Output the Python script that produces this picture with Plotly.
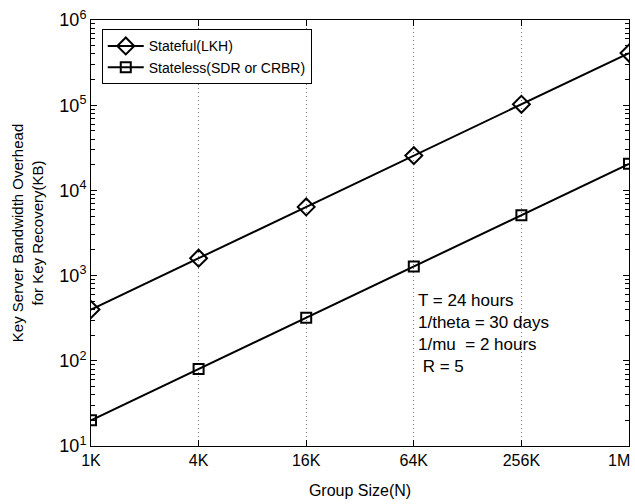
import plotly.graph_objects as go

group_size = [1024, 4096, 16384, 65536, 262144, 1048576]
x_ticklabels = ["1K", "4K", "16K", "64K", "256K", "1M"]
stateful_lkh = [400, 1600, 6400, 25600, 102400, 409600]
stateless = [20, 80, 320, 1280, 5120, 20480]
y_tickvals = [10, 100, 1000, 10000, 100000, 1000000]
y_ticklabels = ["10<sup>1</sup>", "10<sup>2</sup>", "10<sup>3</sup>",
                "10<sup>4</sup>", "10<sup>5</sup>", "10<sup>6</sup>"]

FONT = "Liberation Sans, Arial, Helvetica, sans-serif"

# minor tick positions (2..9 x each decade)
minor_vals = [m * d for d in y_tickvals[:-1] for m in range(2, 10)]

fig = go.Figure()
fig.add_trace(go.Scatter(
    x=group_size, y=stateful_lkh, mode="lines+markers", name="Stateful(LKH)",
    line=dict(color="black", width=2),
    marker=dict(symbol="diamond-open", size=13, color="black", line=dict(width=2)),
))
fig.add_trace(go.Scatter(
    x=group_size, y=stateless, mode="lines+markers", name="Stateless(SDR or CRBR)",
    line=dict(color="black", width=2),
    marker=dict(symbol="square-open", size=10, color="black", line=dict(width=2)),
))
# empty helper trace so the minor-tick axis is drawn
fig.add_trace(go.Scatter(x=[group_size[0]], y=[None], yaxis="y2", showlegend=False,
                         hoverinfo="skip", mode="markers"))

# last x tick label is drawn right-aligned so it stays inside the page
tick_text = x_ticklabels[:-1] + [""]

fig.update_layout(
    width=635, height=504,
    margin=dict(l=91, r=6, t=20, b=58),
    paper_bgcolor="white", plot_bgcolor="white",
    font=dict(family=FONT, size=14, color="black"),
    showlegend=True,
    legend=dict(x=0.02, y=0.978, xanchor="left", yanchor="top",
                bordercolor="black", borderwidth=1, bgcolor="white",
                font=dict(size=14), tracegroupgap=0, itemwidth=36),
    annotations=[
        dict(xref="paper", yref="paper", x=0.605, y=0.368, xanchor="left", yanchor="top",
             align="left", showarrow=False,
             text="T = 24 hours<br>1/theta = 30 days<br>1/mu  = 2 hours<br> R = 5",
             font=dict(size=17, family=FONT)),
        dict(xref="x", yref="paper", x=6.0206, y=0, xanchor="right", yanchor="top",
             yshift=-4, xshift=3, showarrow=False, text=x_ticklabels[-1],
             font=dict(size=16, family=FONT)),
    ],
    xaxis=dict(
        type="log", range=[3.0103, 6.0206],
        tickmode="array", tickvals=group_size, ticktext=tick_text,
        showgrid=True, gridcolor="#777777", griddash="1px,3px", gridwidth=1,
        ticks="inside", ticklen=6, tickcolor="black",
        showline=True, linecolor="black", linewidth=1, mirror="ticks",
        zeroline=False,
        title=dict(text="Group Size(N)", standoff=16, font=dict(size=16)),
        tickfont=dict(size=16),
    ),
    yaxis=dict(
        type="log", range=[1, 6],
        tickmode="array", tickvals=y_tickvals, ticktext=y_ticklabels,
        showgrid=False,
        ticks="inside", ticklen=6, tickcolor="black",
        showline=True, linecolor="black", linewidth=1, mirror="ticks",
        zeroline=False,
        title=dict(text="Key Server Bandwidth Overhead<br>for Key Recovery(KB)",
                   standoff=12, font=dict(size=15)),
        tickfont=dict(size=18),
    ),
    yaxis2=dict(
        overlaying="y", side="left", type="log", range=[1, 6],
        tickmode="array", tickvals=minor_vals, showticklabels=False,
        ticks="inside", ticklen=4, tickcolor="black", tickwidth=1,
        showgrid=False, zeroline=False, showline=True, linecolor="black",
        mirror="ticks",
    ),
)

fig.write_html("out.html")
